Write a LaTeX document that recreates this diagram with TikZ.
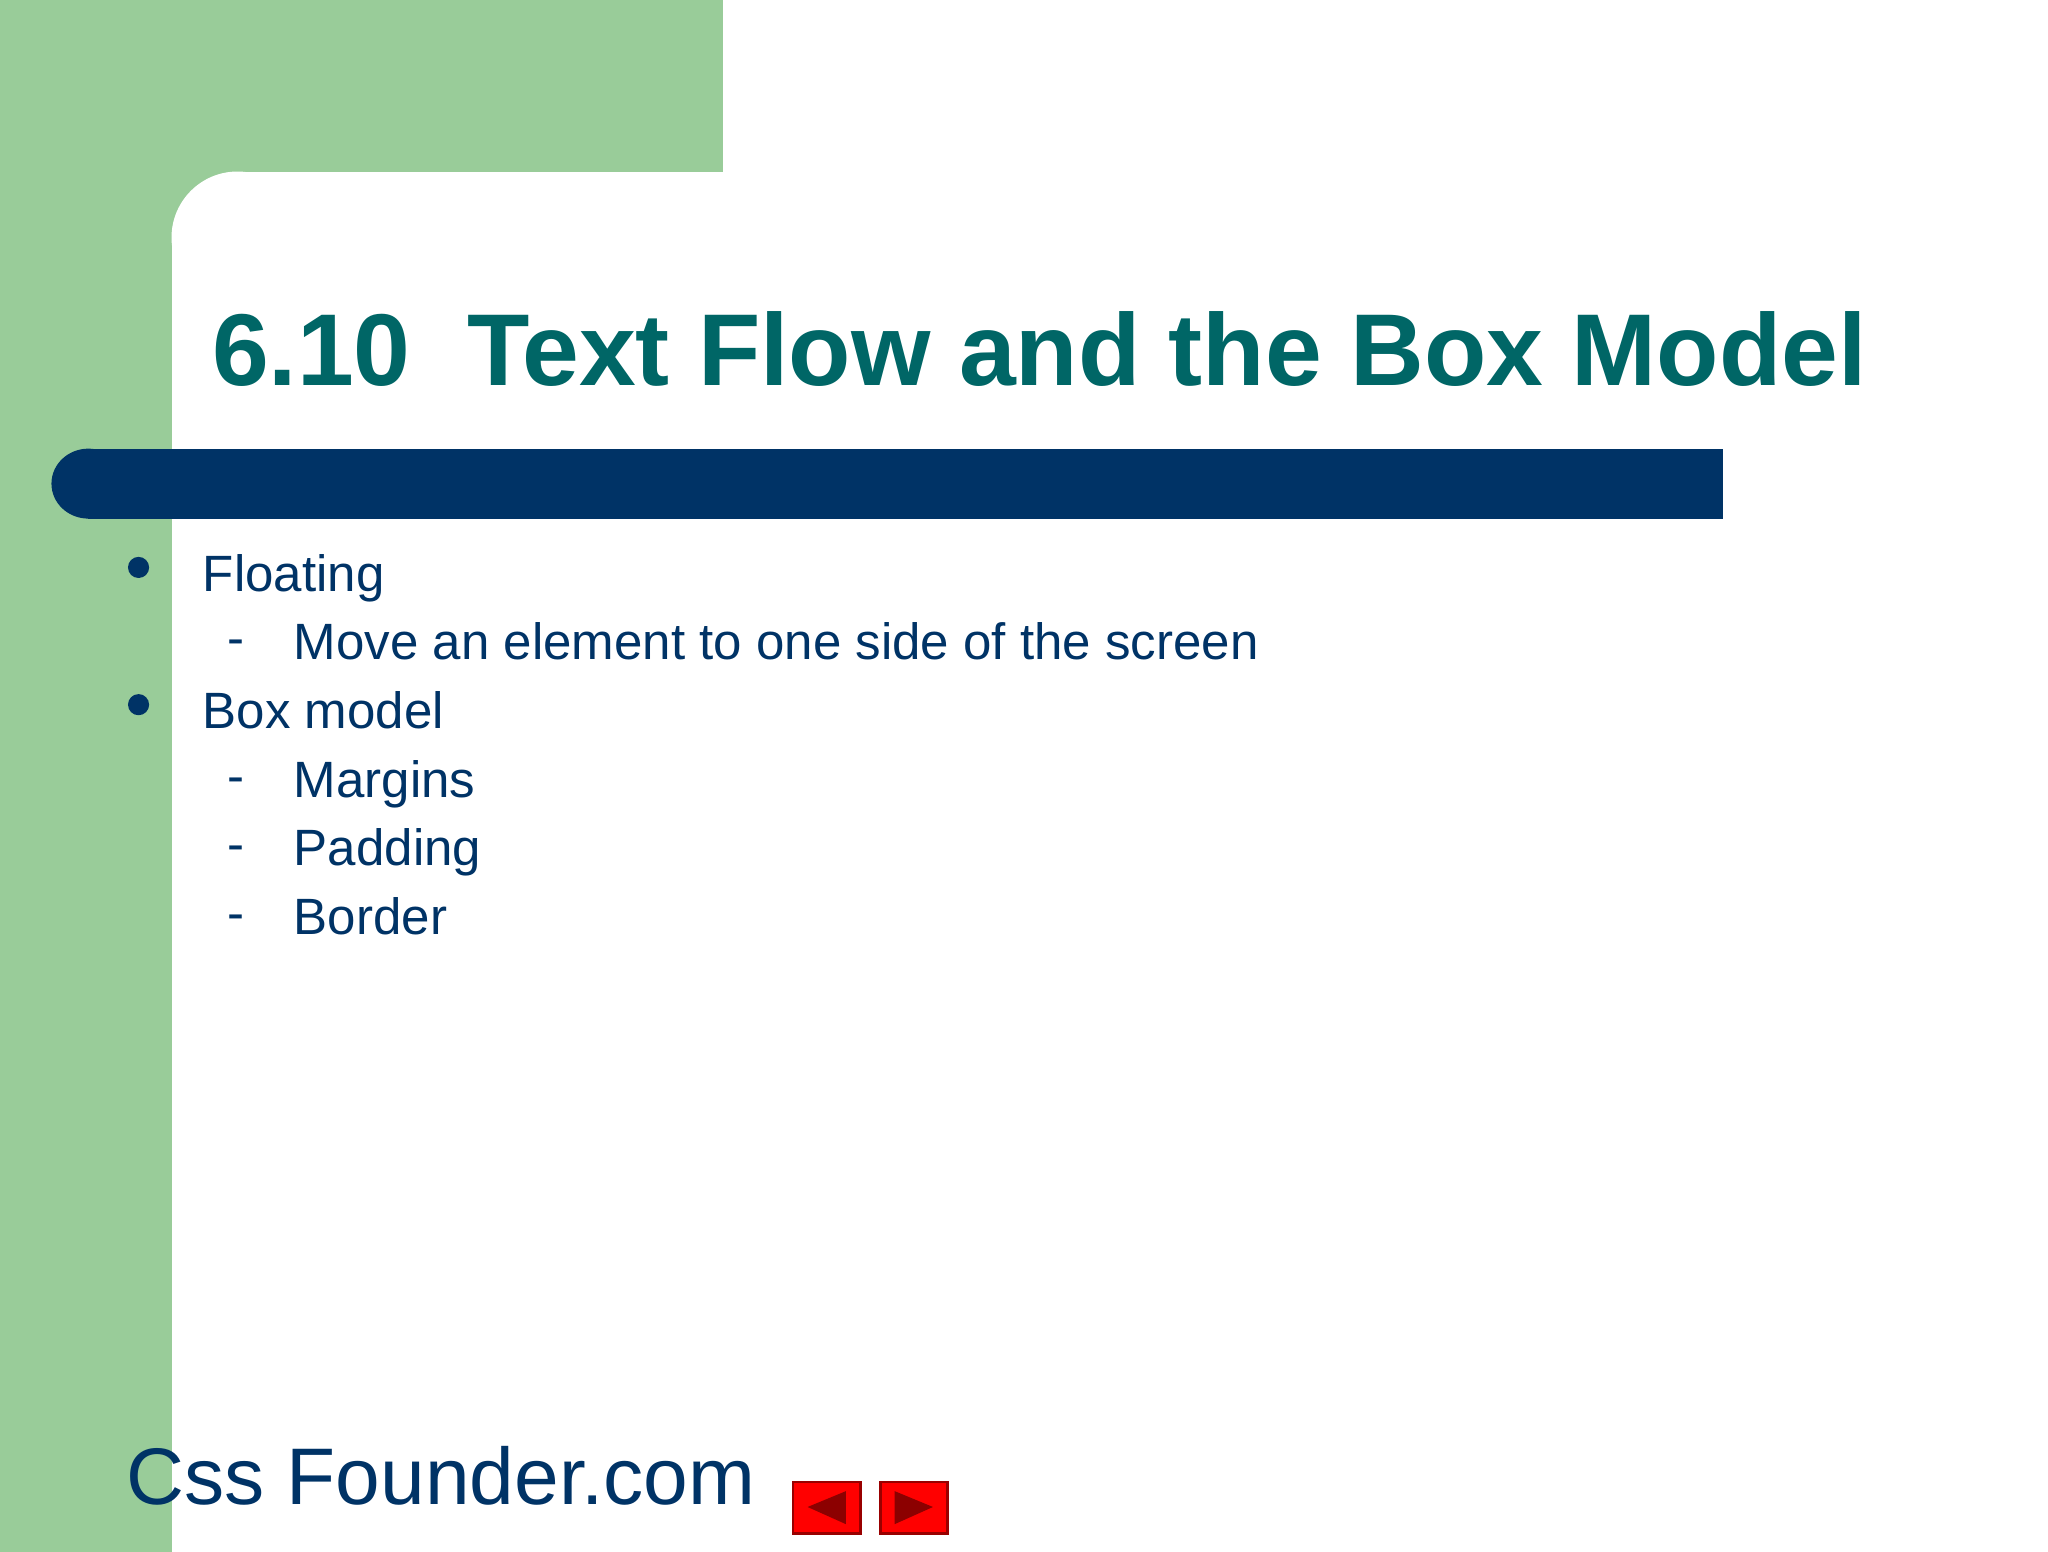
\documentclass[tikz,border=0pt]{standalone}
\usepackage{fontspec}
\setmainfont{Liberation Sans}
\begin{document}
\begin{tikzpicture}[x=0.01cm,y=-0.01cm,
  navytxt/.style={text=navy,font=\fontsize{11pt}{13pt}\selectfont,anchor=base west,inner sep=0},
  btn/.style={fill=red,draw=red!60!black,line width=0.6pt},
  tri/.style={fill=red!55!black}]
\definecolor{navy}{HTML}{003366}
\definecolor{lgreen}{HTML}{99CC99}
\definecolor{teal}{HTML}{006666}
\useasboundingbox (0,0) rectangle (1552,1176);
\fill[white] (0,0) rectangle (1552,1176);
\fill[lgreen] (0,0) rectangle (548,130);
\fill[lgreen] (0,0) rectangle (180,1176);
\fill[lgreen] (0,0) rectangle (548,180);
\fill[white] (180,130) rectangle (1552,1176);
\fill[white] (130,180) rectangle (200,1176);
\fill[white] (180,180) circle (0.5cm);
\fill[navy] (67,340) rectangle (1306,393);
\fill[navy] (67,366.5) ellipse (0.28cm and 0.265cm);
\node[anchor=base west,inner sep=0,text=teal,font=\fontsize{22pt}{26pt}\selectfont\bfseries] (title) at (160,292) {6.10\ \ Text Flow and the Box Model};
\fill[navy] (105,430) circle (0.08cm) coordinate (b1);
\fill[navy] (105,534) circle (0.08cm) coordinate (b2);
\node[navytxt] (t1) at (153,448) {Floating};
\node[navytxt] (d1) at (172,497) {-};
\node[navytxt] (t2) at (222,500) {Move an element to one side of the screen};
\node[navytxt] (t3) at (153,552) {Box model};
\node[navytxt] (d2) at (172,601) {-};
\node[navytxt] (t4) at (222,604) {Margins};
\node[navytxt] (d3) at (172,653) {-};
\node[navytxt] (t5) at (222,656) {Padding};
\node[navytxt] (d4) at (172,705) {-};
\node[navytxt] (t6) at (222,708) {Border};
\node[anchor=base west,inner sep=0,text=navy,font=\fontsize{17.3pt}{21pt}\selectfont] (foot) at (95,1140) {Css Founder.com};
\draw[btn] (601,1123) rectangle (652,1162);
\fill[tri] (612,1142) -- (641,1130) -- (641,1155) -- cycle;
\draw[btn] (667,1123) rectangle (718,1162);
\fill[tri] (707,1142) -- (678,1130) -- (678,1155) -- cycle;
\end{tikzpicture}
\end{document}
